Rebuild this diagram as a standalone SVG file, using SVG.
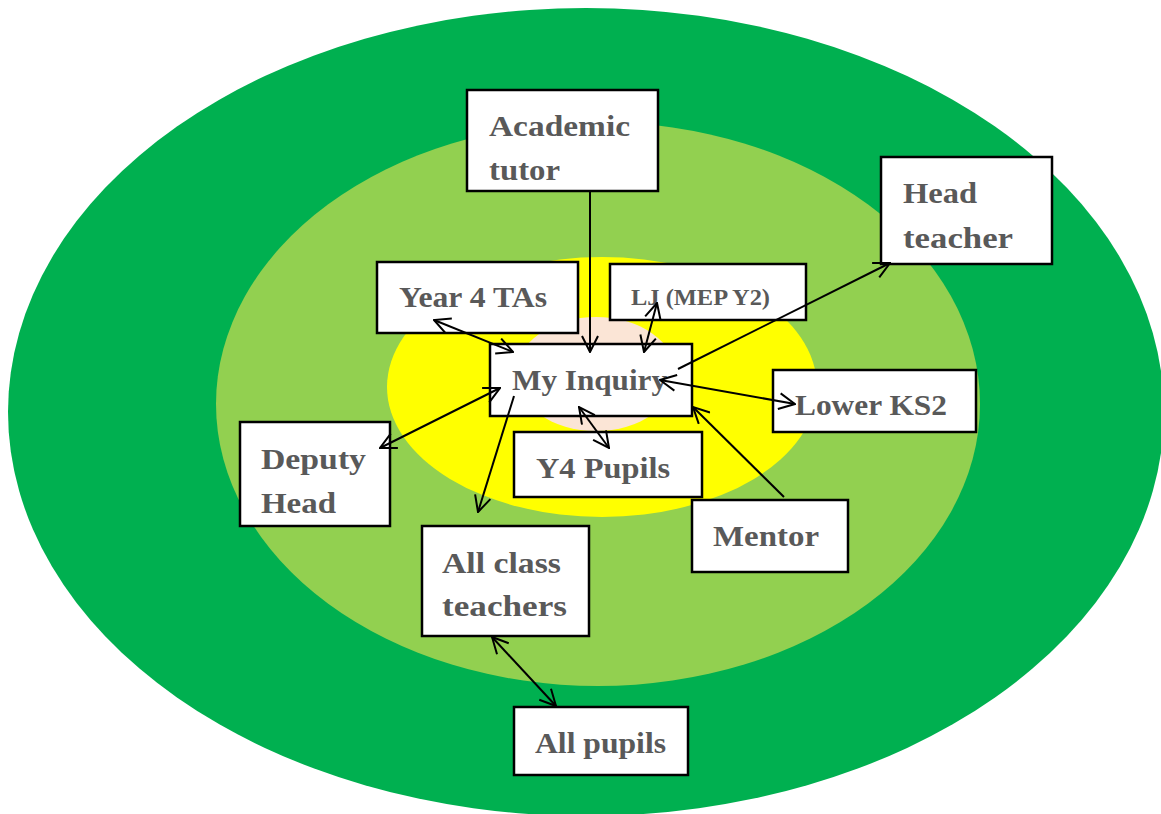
<svg xmlns="http://www.w3.org/2000/svg" width="1161" height="814" viewBox="0 0 1161 814">
<style>
.box{fill:#fff;stroke:#000;stroke-width:2.5}
.t{font-family:"Liberation Serif","DejaVu Serif",serif;font-weight:bold;font-size:30px;fill:#595959}
.c{fill:none;stroke:#000;stroke-width:2}
</style>
<defs>
<marker id="ah" viewBox="0 0 18 18" refX="17" refY="9" markerWidth="18" markerHeight="18" markerUnits="userSpaceOnUse" orient="auto-start-reverse">
<path d="M1,1 L17,9 L1,17" fill="none" stroke="#000" stroke-width="2"/>
</marker>
</defs>
<rect width="1161" height="814" fill="#fff"/>
<g id="rings">
<ellipse cx="586" cy="412" rx="578" ry="404" fill="#00B050"/>
<ellipse cx="598" cy="404" rx="382" ry="282" fill="#92D050"/>
<ellipse cx="602" cy="387" rx="215" ry="130" fill="#FFFF00"/>
<ellipse cx="596" cy="374" rx="80" ry="57" fill="#FBE5D6"/>
</g>
<g id="academic-tutor"><rect class="box" x="467" y="90" width="191" height="101"/><text class="t" x="489" y="136" textLength="141" lengthAdjust="spacingAndGlyphs">Academic</text><text class="t" x="489" y="180" textLength="71" lengthAdjust="spacingAndGlyphs">tutor</text></g>
<g id="head-teacher"><rect class="box" x="881" y="157" width="171" height="107"/><text class="t" x="903" y="203" textLength="74" lengthAdjust="spacingAndGlyphs">Head</text><text class="t" x="903" y="248" textLength="110" lengthAdjust="spacingAndGlyphs">teacher</text></g>
<g id="year4-tas"><rect class="box" x="377" y="262" width="201" height="71"/><text class="t" x="399" y="307" textLength="148" lengthAdjust="spacingAndGlyphs">Year 4 TAs</text></g>
<g id="lj"><rect class="box" x="610" y="264" width="196" height="56"/><text class="t" x="631" y="305" textLength="139" lengthAdjust="spacingAndGlyphs" style="font-size:23px">LJ (MEP Y2)</text></g>
<g id="my-inquiry"><rect class="box" x="490" y="344" width="202" height="72"/><text class="t" x="512" y="390" textLength="155" lengthAdjust="spacingAndGlyphs">My Inquiry</text></g>
<g id="lower-ks2"><rect class="box" x="773" y="370" width="203" height="62"/><text class="t" x="795" y="415" textLength="152" lengthAdjust="spacingAndGlyphs">Lower KS2</text></g>
<g id="deputy-head"><rect class="box" x="240" y="422" width="150" height="104"/><text class="t" x="261" y="469" textLength="105" lengthAdjust="spacingAndGlyphs">Deputy</text><text class="t" x="261" y="513" textLength="75" lengthAdjust="spacingAndGlyphs">Head</text></g>
<g id="y4-pupils"><rect class="box" x="514" y="432" width="188" height="65"/><text class="t" x="536" y="478" textLength="134" lengthAdjust="spacingAndGlyphs">Y4 Pupils</text></g>
<g id="mentor"><rect class="box" x="692" y="500" width="156" height="72"/><text class="t" x="713" y="546" textLength="106" lengthAdjust="spacingAndGlyphs">Mentor</text></g>
<g id="all-class-teachers"><rect class="box" x="422" y="526" width="167" height="110"/><text class="t" x="442" y="573" textLength="119" lengthAdjust="spacingAndGlyphs">All class</text><text class="t" x="442" y="616" textLength="125" lengthAdjust="spacingAndGlyphs">teachers</text></g>
<g id="all-pupils"><rect class="box" x="514" y="707" width="174" height="68"/><text class="t" x="535" y="753" textLength="131" lengthAdjust="spacingAndGlyphs">All pupils</text></g>
<g id="connectors">
<line class="c" x1="590" y1="191" x2="590" y2="352" marker-end="url(#ah)"/>
<line class="c" x1="434" y1="320" x2="513" y2="352" marker-start="url(#ah)" marker-end="url(#ah)"/>
<line class="c" x1="657" y1="303" x2="644" y2="352" marker-start="url(#ah)" marker-end="url(#ah)"/>
<line class="c" x1="678" y1="369" x2="890" y2="263" marker-end="url(#ah)"/>
<line class="c" x1="660" y1="380" x2="795" y2="404" marker-start="url(#ah)" marker-end="url(#ah)"/>
<line class="c" x1="784" y1="497" x2="693" y2="407" marker-end="url(#ah)"/>
<line class="c" x1="380" y1="448" x2="500" y2="388" marker-start="url(#ah)" marker-end="url(#ah)"/>
<line class="c" x1="514" y1="396" x2="478" y2="512" marker-end="url(#ah)"/>
<line class="c" x1="579" y1="407" x2="609" y2="448" marker-start="url(#ah)" marker-end="url(#ah)"/>
<line class="c" x1="492" y1="637" x2="556" y2="706" marker-start="url(#ah)" marker-end="url(#ah)"/>
</g>
</svg>
